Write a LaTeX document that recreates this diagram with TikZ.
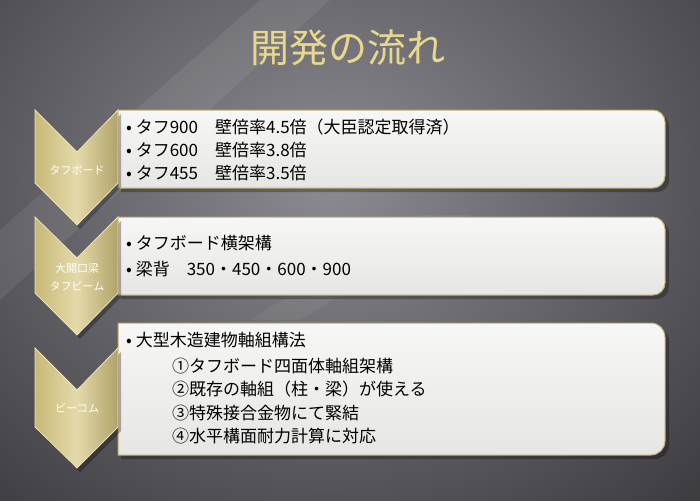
\documentclass[tikz,border=0pt]{standalone}
\usepackage{fontspec}
\setmainfont{Noto Sans CJK JP}
\usetikzlibrary{positioning,shadings}
\definecolor{bgdark}{RGB}{58,58,63}
\definecolor{bglight}{RGB}{140,139,145}
\definecolor{titlegold}{RGB}{232,216,142}
\definecolor{chevgold}{RGB}{200,185,120}
\definecolor{chevlight}{RGB}{228,218,170}
\definecolor{chevedge}{RGB}{236,228,182}
\definecolor{boxfill}{RGB}{247,247,245}
\definecolor{boxedge}{RGB}{192,172,102}
\tikzset{
  chevron/.style   = {draw=chevedge, line width=0.8pt, left color=chevgold, right color=chevgold!88!black, middle color=chevlight},
  chevshadow/.style= {fill=black, opacity=0.3},
  infobox/.style   = {draw=boxedge, line width=1pt, top color=boxfill, bottom color=boxfill!93!black},
  boxshadow/.style = {fill=black, opacity=0.28},
  tag/.style       = {text=white, font=\fontsize{11}{18}\selectfont, inner sep=0pt, align=center},
  item/.style      = {anchor=west, inner sep=0pt, font=\fontsize{17}{20}\selectfont},
  title/.style     = {font=\fontsize{39}{44}\selectfont, inner sep=0pt}
}

\begin{document}
\begin{tikzpicture}[x=1pt, y=-1pt]
  \useasboundingbox (0,0) rectangle (700,500);
  % background
  \fill[bgdark] (0,0) rectangle (700,500);
  \begin{scope}
    \clip (0,0) rectangle (700,500);
    \shade[inner color=bglight, outer color=bgdark] (330,180) ellipse [x radius=540pt, y radius=450pt];
    \fill[white, opacity=0.07] (0,300) -- (0,230) -- (260,0) -- (330,0) -- cycle;
    \fill[white, opacity=0.05] (250,320) -- (420,215) -- (470,215) -- (300,320) -- cycle;
  \end{scope}

  % title
  \node[title, text=titlegold] (title) at (348,48) {開発の流れ};

  % boxes
  \fill[boxshadow] (121,192) -- (121,114) [rounded corners=12pt] -- (669,114) -- (669,192) [sharp corners] -- cycle;
  \path[infobox] (118,188) -- (118,110) [rounded corners=12pt] -- (665,110) -- (665,188) [sharp corners] -- cycle;
  \fill[boxshadow] (121,299) -- (121,221) [rounded corners=12pt] -- (669,221) -- (669,299) [sharp corners] -- cycle;
  \path[infobox] (118,295) -- (118,217) [rounded corners=12pt] -- (665,217) -- (665,295) [sharp corners] -- cycle;
  \fill[boxshadow] (121,459) -- (121,327) [rounded corners=14pt] -- (669,327) -- (669,459) [sharp corners] -- cycle;
  \path[infobox] (118,455) -- (118,323) [rounded corners=14pt] -- (665,323) -- (665,455) [sharp corners] -- cycle;

  % chevrons
  \fill[chevshadow] (38,114) -- (80,156) -- (121,114) -- (121,187) -- (80,229) -- (38,187) -- cycle;
  \path[chevron] (35,110) -- (77,152) -- (118,110) -- (118,183) -- (77,225) -- (35,183) -- cycle;
  \fill[chevshadow] (38,221) -- (80,262) -- (121,221) -- (121,297) -- (80,339) -- (38,297) -- cycle;
  \path[chevron] (35,217) -- (77,258) -- (118,217) -- (118,293) -- (77,335) -- (35,293) -- cycle;
  \fill[chevshadow] (38,352) -- (80,394) -- (121,352) -- (121,431) -- (80,472) -- (38,431) -- cycle;
  \path[chevron] (35,348) -- (77,390) -- (118,348) -- (118,427) -- (77,468) -- (35,427) -- cycle;

  %Labels
  \node[tag] (board) at (77,170) {タフボード};
  \node[tag] (beam) at (77,277) {大開口梁\\タフビーム};
  \node[tag] (bcom) at (77,408) {ビーコム};

  % box texts
  \node[item] (tough900) at (126,127) {• タフ900　壁倍率4.5倍（大臣認定取得済）};
  \node[item] (tough600) [below=23pt of tough900.west, anchor=west] {• タフ600　壁倍率3.8倍};
  \node[item] (tough455) [below=23pt of tough600.west, anchor=west] {• タフ455　壁倍率3.5倍};

  \node[item] (crossbeam) at (126,243) {• タフボード横架構};
  \node[item] (beamheight) [below=26pt of crossbeam.west, anchor=west] {• 梁背　350・450・600・900};

  \node[item] (method) at (126,340) {• 大型木造建物軸組構法};
  \node[item] (pointa) at (172,366) {①タフボード四面体軸組架構};
  \node[item] (pointb) [below=23.5pt of pointa.west, anchor=west] {②既存の軸組（柱・梁）が使える};
  \node[item] (pointc) [below=23.5pt of pointb.west, anchor=west] {③特殊接合金物にて緊結};
  \node[item] (pointd) [below=23.5pt of pointc.west, anchor=west] {④水平構面耐力計算に対応};
\end{tikzpicture}
\end{document}
